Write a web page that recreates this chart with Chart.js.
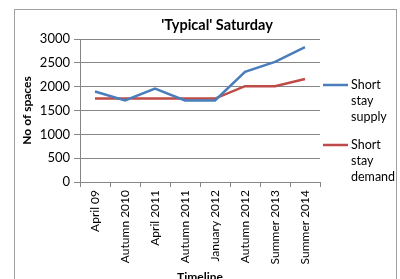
<!DOCTYPE html>
<html><head><meta charset="utf-8">
<script src="https://cdn.jsdelivr.net/npm/chart.js@4"></script>
<style>
html,body{margin:0;padding:0;background:#fff;}
#wrap{position:relative;width:400px;height:279px;overflow:hidden;}
#frame{position:absolute;left:14px;top:9px;width:383px;height:290px;border:1px solid #a0a0a0;box-sizing:border-box;}
canvas{position:absolute;left:0;top:0;}
</style></head>
<body><div id="wrap"><div id="frame"></div><canvas id="c" width="400" height="279"></canvas></div>
<script>
const categories = ['April 09','Autumn 2010','April 2011','Autumn 2011','January 2012','Autumn 2012','Summer 2013','Summer 2014'];
const supplyValues = [1900, 1710, 1960, 1710, 1710, 2310, 2520, 2830];
const demandValues = [1750, 1750, 1750, 1750, 1750, 2010, 2010, 2160];
const seriesNames = [['Short','stay','supply'], ['Short','stay','demand']];
const yTicks = [0, 500, 1000, 1500, 2000, 2500, 3000];
const FONT = 'Lato, "Open Sans", sans-serif';

const legendPlugin = {
  id: 'customLegend',
  afterDraw(chart) {
    const ctx = chart.ctx;
    const items = [{y: 85}, {y: 145}];
    ctx.save();
    ctx.font = '12.5px ' + FONT;
    ctx.textBaseline = 'middle';
    ctx.fillStyle = '#000';
    chart.data.datasets.forEach((ds, i) => {
      const y0 = items[i].y;
      ctx.strokeStyle = ds.borderColor;
      ctx.lineWidth = 2.5;
      ctx.beginPath(); ctx.moveTo(323, y0); ctx.lineTo(348, y0); ctx.stroke();
      seriesNames[i].forEach((t, j) => ctx.fillText(t, 351, y0 + j * 16));
    });
    ctx.restore();
  }
};
const titlePlugin = {
  id: 'customTitle',
  afterDraw(chart) {
    const ctx = chart.ctx;
    ctx.save();
    ctx.font = 'bold 14.5px ' + FONT;
    ctx.fillStyle = '#000';
    ctx.textAlign = 'center';
    ctx.textBaseline = 'middle';
    ctx.fillText("'Typical' Saturday", 217, 25);
    ctx.restore();
  }
};

new Chart(document.getElementById('c'), {
  type: 'line',
  data: {
    labels: categories,
    datasets: [
      {label: 'Short stay supply', data: supplyValues, borderColor: '#4a7ebb', backgroundColor: '#4a7ebb', borderWidth: 2.5, pointRadius: 0, tension: 0},
      {label: 'Short stay demand', data: demandValues, borderColor: '#be4b48', backgroundColor: '#be4b48', borderWidth: 2.5, pointRadius: 0, tension: 0}
    ]
  },
  options: {
    responsive: false,
    animation: false,
    layout: {padding: {left: 0, right: 80, top: 39, bottom: 0}},
    plugins: {legend: {display: false}, tooltip: {enabled: false}, title: {display: false}},
    scales: {
      x: {
        offset: true,
        grid: {display: true, offset: true, drawOnChartArea: false, drawTicks: true, tickLength: 5, color: '#868686'},
        border: {color: '#868686'},
        ticks: {minRotation: 90, maxRotation: 90, autoSkip: false, color: '#000', font: {family: FONT, size: 12}, padding: 3},
        title: {display: true, text: 'Timeline', color: '#000', font: {family: FONT, size: 12, weight: 'bold'}, padding: {top: 0, bottom: -5}},
        afterFit(s) { s.height = 97; }
      },
      y: {
        min: 0, max: 3000,
        afterBuildTicks(s) { s.ticks = yTicks.map(v => ({value: v})); },
        grid: {color: '#868686', drawTicks: true, tickLength: 6},
        border: {color: '#868686'},
        ticks: {color: '#000', font: {family: FONT, size: 13}, padding: 4, callback: v => String(v)},
        title: {display: true, text: 'No of spaces', color: '#000', font: {family: FONT, size: 12, weight: 'bold'}, padding: {top: 20, bottom: 0}},
        afterFit(s) { s.width = 80; }
      }
    }
  },
  plugins: [legendPlugin, titlePlugin]
});
</script></body></html>
